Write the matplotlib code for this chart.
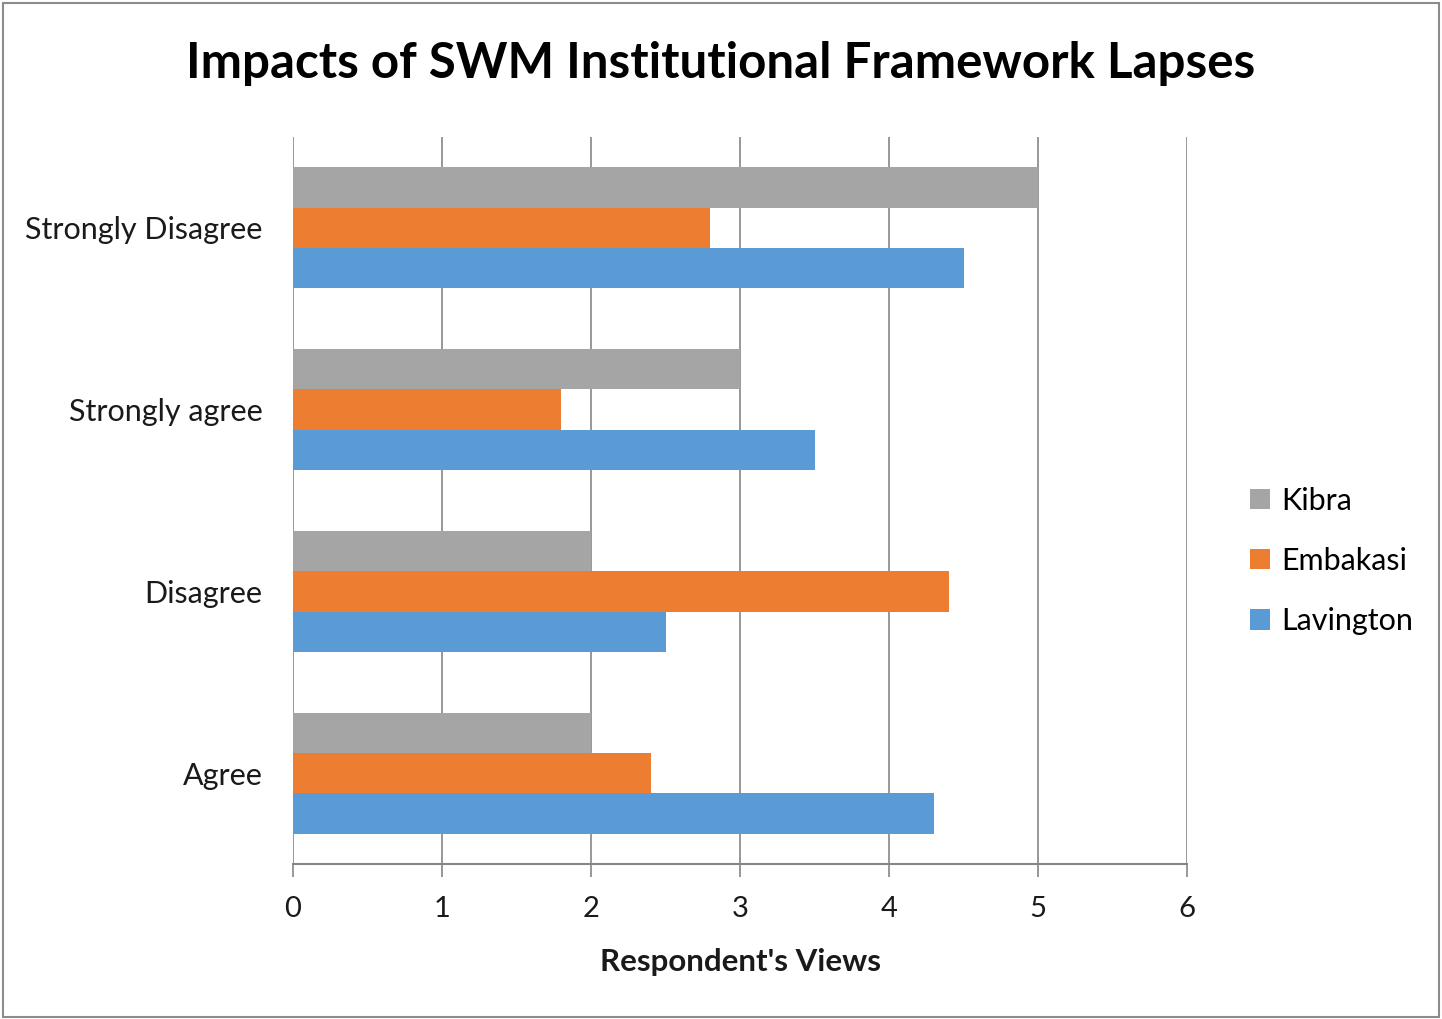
import numpy as np
import matplotlib.pyplot as plt
from matplotlib.patches import Rectangle

plt.rcParams["font.family"] = ["Lato", "DejaVu Sans"]

categories = ["Agree", "Disagree", "Strongly agree", "Strongly Disagree"]
kibra = [2, 2, 3, 5]
embakasi = [2.4, 4.4, 1.8, 2.8]
lavington = [4.3, 2.5, 3.5, 4.5]

series = [("Lavington", lavington, "#5B9BD5"),
          ("Embakasi", embakasi, "#ED7D31"),
          ("Kibra", kibra, "#A5A5A5")]

fig = plt.figure(figsize=(14.42, 10.19), dpi=100)
ax = fig.add_axes([293 / 1442, 1 - 864 / 1019, 894 / 1442, (864 - 137) / 1019])

y = np.arange(len(categories))
h = 0.222
for i, (name, vals, col) in enumerate(series):
    ax.barh(y + (i - 1) * h, vals, height=h, color=col, label=name, zorder=3)

ax.set_xlim(0, 6)
ax.set_ylim(-0.5, 3.5)
ax.set_xticks(range(7))
ax.set_yticks(y)
ax.set_yticklabels(categories)
ax.tick_params(axis="y", length=0, pad=22, labelsize=22, colors="#1a1a1a")
ax.tick_params(axis="x", length=9, width=1.2, color="#868686", pad=14,
               labelsize=21, labelcolor="#1a1a1a")
ax.grid(axis="x", color="#868686", linewidth=1.2, zorder=0)
for s in ["top", "right", "left"]:
    ax.spines[s].set_visible(False)
ax.spines["bottom"].set_color("#868686")
ax.spines["bottom"].set_linewidth(1.5)

ax.set_xlabel("Respondent's Views", fontsize=22.5, fontweight="bold",
              labelpad=19, color="#1a1a1a")
fig.text(0.5, 1 - 63 / 1019, "Impacts of SWM Institutional Framework Lapses",
         ha="center", va="center", fontsize=35.5, fontweight="bold")

handles, labels = ax.get_legend_handles_labels()
fig.legend(handles[::-1], labels[::-1], loc="center left",
           bbox_to_anchor=(1238 / 1442, 1 - 561 / 1019), frameon=False,
           fontsize=22, handlelength=0.65, handleheight=0.65,
           handletextpad=0.35, labelspacing=1.05, borderaxespad=0)

fig.patches.append(Rectangle((3 / 1442, 2 / 1019), 1436 / 1442, 1014 / 1019,
                             transform=fig.transFigure, fill=False,
                             edgecolor="#8c8c8c", linewidth=1.5))

fig.savefig("out.png", dpi=100)
